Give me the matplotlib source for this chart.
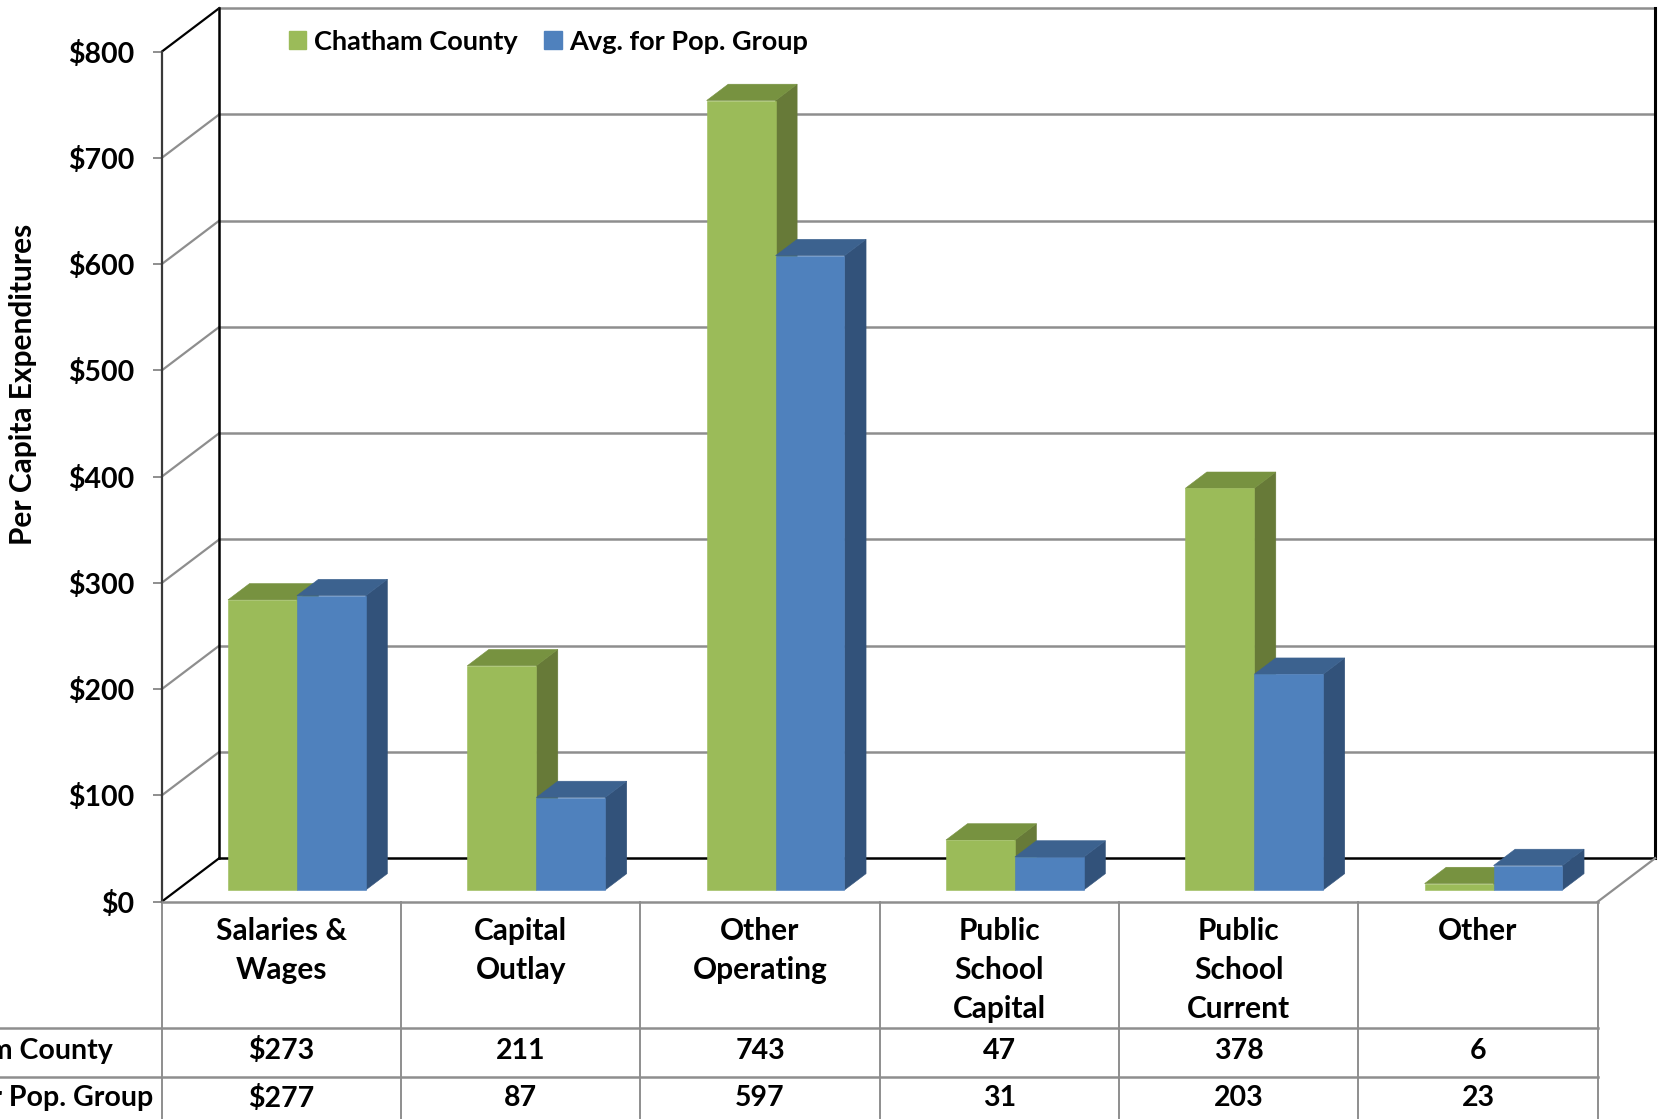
import matplotlib.pyplot as plt
from matplotlib.patches import Polygon, Patch

# per capita expenditures by function
categories = ['Salaries &\nWages', 'Capital\nOutlay', 'Other\nOperating',
              'Public\nSchool\nCapital', 'Public\nSchool\nCurrent', 'Other']
chatham = [273, 211, 743, 47, 378, 6]
pop_group = [277, 87, 597, 31, 203, 23]
series_names = ['Chatham County', 'Avg. for Pop. Group']
yticks = [0, 100, 200, 300, 400, 500, 600, 700, 800]

# face colours: front, top, side
green = ('#9BBB59', '#779240', '#677A38')
blue = ('#4F81BD', '#3C628F', '#32527A')
grid_col = '#8E8E8E'

plt.rcParams['font.family'] = ['Lato', 'DejaVu Sans']
plt.rcParams['font.weight'] = 'bold'
FS = 20.5

W, H = 1663, 1119
fig = plt.figure(figsize=(W / 100, H / 100), dpi=100)

# front plane of the box, in pixels
left_px, right_px = 161.7, 1597.7
top_px, bottom_px = 51.7, 901.7
ax = fig.add_axes([left_px / W, 1 - bottom_px / H,
                   (right_px - left_px) / W, (bottom_px - top_px) / H])
n = len(categories)
ymax = yticks[-1]
ax.set_xlim(0, n)
ax.set_ylim(0, ymax)
ax.set_facecolor('none')

xs = (right_px - left_px) / n          # px per category
ys = (bottom_px - top_px) / ymax       # px per unit


def px_x(p):
    return (p - left_px) / xs


def px_y(p):
    return (bottom_px - p) / ys


# depth offset of the back wall
DX = 57.5 / xs
DY = 43.5 / ys

# walls and gridlines
for v in yticks:
    c = 'black' if v in (0, ymax) else grid_col
    ax.plot([0, DX], [v, v + DY], color=c, lw=1.6, clip_on=False, zorder=1)
    ax.plot([DX, n + DX], [v + DY, v + DY], color='black' if v == 0 else grid_col,
            lw=1.8, clip_on=False, zorder=1)
ax.plot([DX, DX], [DY, ymax + DY], color='black', lw=1.8, clip_on=False, zorder=1)
ax.plot([n + DX, n + DX], [DY, ymax + DY], color='black', lw=2.2, clip_on=False, zorder=1)
ax.plot([n, n + DX], [0, DY], color=grid_col, lw=1.6, clip_on=False, zorder=1)


def draw_box(x0, x1, h, d0, d1, cols, z):
    a, b = d0 * DX, d1 * DX
    c, d = d0 * DY, d1 * DY
    front = [(x0 + a, c), (x1 + a, c), (x1 + a, h + c), (x0 + a, h + c)]
    top = [(x0 + a, h + c), (x1 + a, h + c), (x1 + b, h + d), (x0 + b, h + d)]
    side = [(x1 + a, c), (x1 + b, d), (x1 + b, h + d), (x1 + a, h + c)]
    for pts, col in ((side, cols[2]), (top, cols[1]), (front, cols[0])):
        ax.add_patch(Polygon(pts, closed=True, facecolor=col, edgecolor=col,
                             lw=0.4, clip_on=False, zorder=z))


bar_w = 0.288
d_front, d_back = 0.27, 0.645
z = 3
for i in range(n):
    draw_box(i + 0.5 - bar_w, i + 0.5, chatham[i], d_front, d_back, green, z)
    draw_box(i + 0.5, i + 0.5 + bar_w, pop_group[i], d_front, d_back, blue, z + 1)
    z += 2

# front axis
for s in ('top', 'right'):
    ax.spines[s].set_visible(False)
ax.spines['left'].set_color('#3a3a3a')
ax.spines['left'].set_linewidth(1.6)
ax.spines['bottom'].set_color(grid_col)
ax.spines['bottom'].set_linewidth(1.8)
ax.set_yticks(yticks)
ax.set_yticklabels([f'${v}' for v in yticks])
ax.tick_params(axis='y', length=6.5, width=1.4, color=grid_col, pad=13,
               labelsize=FS)
ax.set_xticks([])

# data table under the chart
row_lines = [1027.7, 1076.7, 1125.7]
for i in range(n + 1):
    ax.plot([i, i], [0, px_y(H + 10)], color=grid_col, lw=1.4, clip_on=False)
for r in row_lines:
    ax.plot([px_x(0), n], [px_y(r), px_y(r)], color=grid_col, lw=1.8, clip_on=False)

line_centers = [931, 970, 1009]
for i, lab in enumerate(categories):
    for k, part in enumerate(lab.split('\n')):
        ax.text(i + 0.5, px_y(line_centers[k]), part, ha='center', va='center',
                fontsize=21.5)

row_y = [1051, 1098]
for r, (vals, name, end) in enumerate(zip([chatham, pop_group], series_names, [113, 153])):
    ax.text(px_x(end), px_y(row_y[r]), name, ha='right', va='center', fontsize=FS)
    for i, v in enumerate(vals):
        txt = f'${v}' if i == 0 else str(v)
        ax.text(i + 0.5, px_y(row_y[r]), txt, ha='center', va='center', fontsize=FS)

fig.text(23 / W, 1 - 384 / H, 'Per Capita Expenditures', rotation=90,
         ha='center', va='center', fontsize=21.5)

handles = [Patch(color=green[0]), Patch(color=blue[0])]
ax.legend(handles, series_names, ncol=2, loc='center left',
          bbox_to_anchor=(289 / W, 1 - 41.5 / H), bbox_transform=fig.transFigure,
          frameon=False, fontsize=19.5, handlelength=0.64, handleheight=0.64,
          handletextpad=0.27, columnspacing=1.0, borderpad=0, borderaxespad=0)

fig.savefig('out.png', dpi=100)
